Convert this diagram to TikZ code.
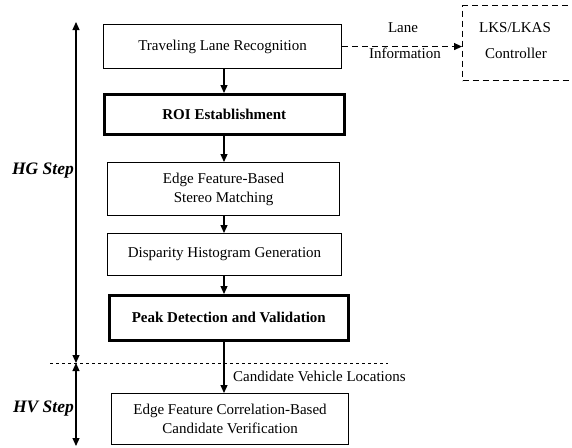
\documentclass[tikz,border=0pt]{standalone}
\usepackage{fontspec}
\setmainfont{Liberation Serif}
\usetikzlibrary{arrows.meta}
\begin{document}
\begin{tikzpicture}[x=1pt,y=-1pt,
  box/.style={draw,line width=1.1pt,anchor=north west,inner sep=0pt,align=center,font=\fontsize{15}{19}\selectfont},
  boldbox/.style={box,line width=2.6pt,font=\fontsize{15}{19}\selectfont\bfseries},
  arr/.style={line width=1.2pt,-{Triangle[length=8pt,width=7pt]}},
  darr/.style={line width=1.2pt,{Triangle[length=8pt,width=7pt]}-{Triangle[length=8pt,width=7pt]}},
  longdash/.style={dash pattern=on 6pt off 4pt},
  lbl/.style={font=\fontsize{15}{17}\selectfont,inner sep=0pt}]
\useasboundingbox (0,0) rectangle (572,447);
\clip (0,0) rectangle (572,447);
\node[box,minimum width=238pt,minimum height=44pt] (b1) at (103,24) {Traveling Lane Recognition};
\node[boldbox,minimum width=240pt,minimum height=40pt] (b2) at (103,93) {ROI Establishment};
\node[box,minimum width=232pt,minimum height=53pt] (b3) at (107,162) {Edge Feature-Based\\Stereo Matching};
\node[box,minimum width=234pt,minimum height=42pt] (b4) at (107,233) {Disparity Histogram Generation};
\node[boldbox,minimum width=239pt,minimum height=45pt] (b5) at (108,294) {Peak Detection and Validation};
\node[box,minimum width=237pt,minimum height=51pt] (b6) at (111,393) {Edge Feature Correlation-Based\\Candidate Verification};
\node[box,longdash,minimum width=130pt,minimum height=75pt] (lks) at (462,5) {};
\node[lbl] (lks1) at (515,28) {LKS/LKAS};
\node[lbl] (lks2) at (516,53) {Controller};
\coordinate (cx) at (224,0);
\draw[arr] (b1.south -| cx) -- (b2.north -| cx);
\draw[arr] (b2.south -| cx) -- (b3.north -| cx);
\draw[arr] (b3.south -| cx) -- (b4.north -| cx);
\draw[arr] (b4.south -| cx) -- (b5.north -| cx);
\draw[arr] (b5.south -| cx) -- (b6.north -| cx);
\draw[arr,longdash] (b1.east) -- (b1.east -| lks.west);
\node[lbl] (lane1) at (403,28) {Lane};
\node[lbl] (lane2) at (405,53) {Information};
\coordinate (dl) at (50,363);
\coordinate (dr) at (388,363);
\draw[dashed,line width=0.9pt] (dl) -- (dr);
\node[lbl,anchor=west] (cvl) at (233,376) {Candidate Vehicle Locations};
\coordinate (atop) at (76,22);
\coordinate (amid) at (76,363);
\coordinate (abot) at (76,446);
\draw[darr] (amid) -- (atop);
\draw[darr] (amid) -- (abot);
\node[lbl,anchor=east,font=\fontsize{17.5}{19}\selectfont\bfseries\itshape] (hg) at (74,171) {HG Step};
\node[lbl,anchor=east,font=\fontsize{17.5}{19}\selectfont\bfseries\itshape] (hv) at (74,409) {HV Step};
\end{tikzpicture}
\end{document}
